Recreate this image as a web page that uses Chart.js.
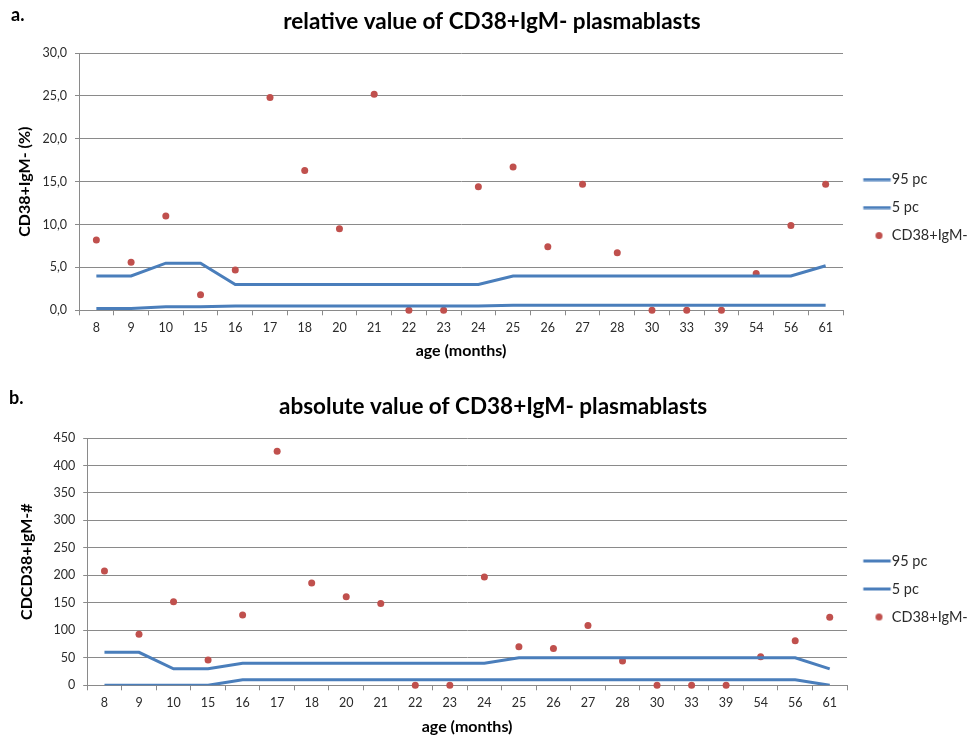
<!DOCTYPE html>
<html><head><meta charset="utf-8">
<script src="https://cdn.jsdelivr.net/npm/chart.js@4"></script>
<style>
html,body{margin:0;padding:0;background:#fff;}
body{width:971px;height:736px;position:relative;overflow:hidden;font-family:Lato,sans-serif;}
.box{position:absolute;left:0;width:971px;}
.lbl{position:absolute;font:bold 18px Lato;color:#000;}
</style></head><body>
<div class="box" style="top:0;height:370px"><canvas id="ca"></canvas></div>
<div class="box" style="top:370px;height:366px"><canvas id="cb"></canvas></div>
<div class="lbl" style="left:11px;top:3px">a.</div>
<div class="lbl" style="left:9px;top:386px">b.</div>
<script>
// ---- data ----
const ages = ['8','9','10','15','16','17','18','20','21','22','23','24','25','26','27','28','30','33','39','54','56','61'];
const seriesNames = ['95 pc', '5 pc', 'CD38+IgM-'];

const relP95 = [4.0,4.0,5.5,5.5,3.0,3.0,3.0,3.0,3.0,3.0,3.0,3.0,4.0,4.0,4.0,4.0,4.0,4.0,4.0,4.0,4.0,5.2];
const relP5  = [0.2,0.2,0.4,0.4,0.5,0.5,0.5,0.5,0.5,0.5,0.5,0.5,0.6,0.6,0.6,0.6,0.6,0.6,0.6,0.6,0.6,0.6];
const relCD  = [8.2,5.6,11.0,1.8,4.7,24.8,16.3,9.5,25.2,0,0,14.4,16.7,7.4,14.7,6.7,0,0,0,4.3,9.9,14.7];
const relTicks = ['0,0','5,0','10,0','15,0','20,0','25,0','30,0'];

const absP95 = [60,60,30,30,40,40,40,40,40,40,40,40,50,50,50,50,50,50,50,50,50,30];
const absP5  = [0,0,0,0,10,10,10,10,10,10,10,10,10,10,10,10,10,10,10,10,10,0];
const absCD  = [208,93,152,46,128,426,186,161,149,0,0,197,70,67,109,44,0,0,0,52,81,124];
const absTicks = ['0','50','100','150','200','250','300','350','400','450'];

// ---- styles ----
const BLUE = '#4a7ebb', RED = '#c0504d', GRID = '#8a8a8a', TXT = '#2b2b2b';
const LEG_PAD = 13.5, LEG_FONT = 14.5;

// legend swatch images: line 863..891, dot at 879 (page x), given swatch centre cx
function lineImg(cx){
  const half = Math.ceil(Math.max(cx - 863.3, 890.7 - cx)) + 1;
  const c = document.createElement('canvas'); c.width = 2*half; c.height = 4;
  const g = c.getContext('2d'); g.fillStyle = BLUE;
  g.fillRect(half - (cx - 863.3), 0.5, 27.4, 3); return c;
}
function dotImg(cx){
  const half = Math.ceil(Math.abs(879 - cx)) + 5;
  const c = document.createElement('canvas'); c.width = 2*half; c.height = 9;
  const g = c.getContext('2d'); g.fillStyle = RED; g.beginPath();
  g.arc(half + (879 - cx), 4.5, 3.5, 0, Math.PI*2); g.fill(); return c;
}

function makeChart(id, cfg){
  const legLeft = 971 - cfg.legW;
  const cx = legLeft + LEG_PAD + cfg.swW/2;
  const imgs = [lineImg(cx), lineImg(cx), dotImg(cx)];
  return new Chart(document.getElementById(id), {
    type: 'line',
    data: {
      labels: ages,
      datasets: [
        {label: seriesNames[0], data: cfg.p95, borderColor: BLUE, borderWidth: 3, pointRadius: 0, tension: 0, fill: false},
        {label: seriesNames[1], data: cfg.p5, borderColor: BLUE, borderWidth: 3, pointRadius: 0, tension: 0, fill: false},
        {label: seriesNames[2], data: cfg.cd, showLine: false, pointRadius: 3.5, pointBorderWidth: 0,
         pointBackgroundColor: RED, borderColor: RED, backgroundColor: RED, clip: false}
      ]
    },
    options: {
      responsive: true, maintainAspectRatio: false, animation: false, devicePixelRatio: 1,
      layout: {padding: cfg.pad},
      plugins: {
        tooltip: {enabled: false},
        title: {display: true, text: cfg.title, color: '#000',
                font: {family: 'Lato', size: 22.5, weight: 'bold'}, padding: cfg.titlePad},
        legend: {
          position: 'right', align: 'start', maxWidth: cfg.legW,
          title: {display: true, text: '', font: {size: 1}, padding: {top: cfg.legTop, bottom: 0}},
          labels: {
            usePointStyle: true, pointStyleWidth: cfg.swW, padding: LEG_PAD, color: TXT,
            font: {family: 'Lato', size: LEG_FONT},
            generateLabels: (chart) => chart.data.datasets.map((d, i) => ({
              text: d.label, pointStyle: imgs[i], datasetIndex: i, hidden: false,
              lineWidth: 0, strokeStyle: 'rgba(0,0,0,0)', fillStyle: 'rgba(0,0,0,0)', fontColor: TXT
            }))
          }
        }
      },
      scales: {
        x: {
          offset: true,
          afterFit: (s) => { s.height = cfg.xH; },
          grid: {offset: true, drawOnChartArea: false, color: GRID, tickLength: 5, tickColor: GRID},
          border: {color: GRID, width: 1},
          ticks: {autoSkip: false, maxRotation: 0, padding: 5, color: TXT, font: {family: 'Lato', size: 12.5}},
          title: {display: true, text: 'age (months)', color: '#000', font: {family: 'Lato', size: 16, weight: 'bold'},
                  padding: {top: 0, bottom: cfg.xTitleBottom}}
        },
        y: {
          min: 0, max: cfg.max,
          afterFit: (s) => { s.width = cfg.yW; },
          grid: {color: GRID, tickLength: 4, tickColor: GRID},
          border: {color: GRID, width: 1},
          ticks: {stepSize: cfg.step, padding: 8, color: TXT, font: {family: 'Lato', size: 12.5},
                  callback: (v, i) => cfg.ticks[i]},
          title: {display: true, text: cfg.yTitle, color: '#000', font: {family: 'Lato', size: 16, weight: 'bold'},
                  padding: {top: 2.4, bottom: 2}}
        }
      }
    }
  });
}

makeChart('ca', {
  p95: relP95, p5: relP5, cd: relCD, ticks: relTicks, max: 30, step: 5,
  title: 'relative value of CD38+IgM- plasmablasts', yTitle: 'CD38+IgM- (%)',
  pad: {left: 13, right: 0, top: 0, bottom: 9.7}, titlePad: {top: 8.5, bottom: 17.5},
  legTop: 157.6, legW: 128, swW: 28, xH: 50, xTitleBottom: 0.2, yW: 66
});
makeChart('cb', {
  p95: absP95, p5: absP5, cd: absCD, ticks: absTicks, max: 450, step: 50,
  title: 'absolute value of CD38+IgM- plasmablasts', yTitle: 'CDCD38+IgM-#',
  pad: {left: 15.2, right: 0, top: 0, bottom: 0}, titlePad: {top: 23.5, bottom: 17.5},
  legTop: 169, legW: 124, swW: 24, xH: 50.7, xTitleBottom: 0, yW: 72
});
</script>
</body></html>
